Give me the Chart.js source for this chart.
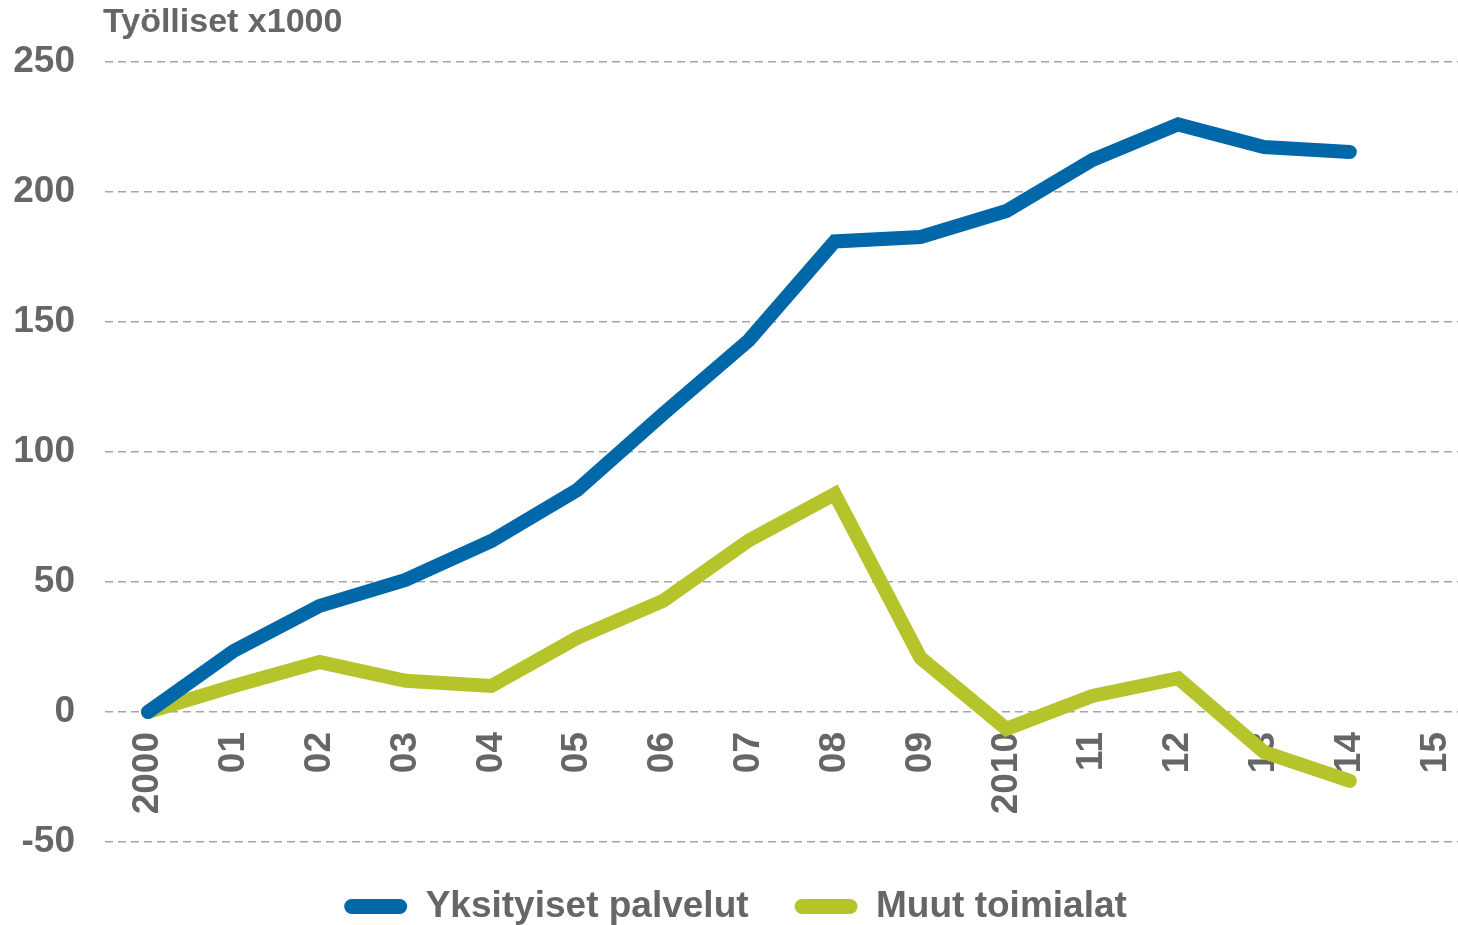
<!DOCTYPE html>
<html>
<head>
<meta charset="utf-8">
<script src="https://cdn.jsdelivr.net/npm/chart.js@4/dist/chart.umd.min.js"></script>
<style>
  html, body { margin: 0; padding: 0; background: #fff; overflow: hidden; }
  #wrap { width: 1458px; height: 925px; }
  canvas { display: block; }
</style>
</head>
<body>
<div id="wrap"><canvas id="chart"></canvas></div>
<script>
// Työlliset x1000, muutos vuodesta 2000
const years = ['2000', '01', '02', '03', '04', '05', '06', '07', '08', '09', '2010', '11', '12', '13', '14', '15']
const yksityisetPalvelut = [0, 23.5, 40.8, 50.8, 65.8, 85.4, 114.6, 143, 181, 182.7, 192.7, 212.3, 226, 217.3, 215.4]
const muutToimialat = [0, 10, 19.2, 12, 10, 28.5, 42.7, 66, 83.8, 20.8, -6.5, 6.2, 13, -15.4, -26.5]
const yTicks = [-50, 0, 50, 100, 150, 200, 250]

const GREY = '#666666'
const BLUE = '#0068a8'
const GREEN = '#b5c42a'
const FONT = '"Liberation Sans", Arial, sans-serif'

const toPoints = arr => arr.map((v, i) => ({ x: i, y: v }))

const axisTitle = {
  id: 'axisTitle',
  afterDraw(chart) {
    const { ctx, chartArea } = chart
    ctx.save()
    ctx.font = `bold 34px ${FONT}`
    ctx.fillStyle = GREY
    ctx.textBaseline = 'middle'
    ctx.textAlign = 'left'
    ctx.fillText('Työlliset x1000', chartArea.left - 2, 23)
    ctx.restore()
  },
}

const line = (label, data, color) => ({
  label,
  data: toPoints(data),
  borderColor: color,
  backgroundColor: color,
  borderWidth: 14,
  borderCapStyle: 'round',
  borderJoinStyle: 'miter',
  pointRadius: 0,
  tension: 0,
  fill: false,
})

new Chart(document.getElementById('chart'), {
  type: 'line',
  data: {
    datasets: [
      line('Yksityiset palvelut', yksityisetPalvelut, BLUE),
      line('Muut toimialat', muutToimialat, GREEN),
    ],
  },
  options: {
    responsive: true,
    maintainAspectRatio: false,
    animation: false,
    layout: { padding: { top: 62, right: 0, left: 13, bottom: -10 } },
    scales: {
      x: {
        type: 'linear',
        position: { y: 0 },
        min: -0.5,
        max: 15.26,
        z: 1,
        // the axis sits inside the plot, so it must not shrink the plot sideways
        afterFit: s => { s.paddingLeft = 0; s.paddingRight = 0 },
        grid: { display: false, drawTicks: false },
        border: { display: false },
        ticks: {
          stepSize: 1,
          includeBounds: false,
          autoSkip: false,
          minRotation: 90,
          maxRotation: 90,
          padding: 20,
          color: GREY,
          font: { size: 37, weight: 'bold', family: FONT },
          callback: v => years[v] ?? '',
        },
      },
      y: {
        min: -50,
        max: 250,
        afterBuildTicks: axis => { axis.ticks = yTicks.map(v => ({ value: v })) },
        afterFit: s => { s.width = 92 },
        grid: { color: '#a6a6a6', lineWidth: 1.5, drawTicks: false },
        border: { display: false, dash: [8, 5] },
        ticks: {
          padding: 30,
          color: GREY,
          font: { size: 37, weight: 'bold', family: FONT },
        },
      },
    },
    plugins: {
      legend: {
        position: 'bottom',
        labels: {
          color: GREY,
          font: { size: 37, weight: 'bold', family: FONT },
          boxWidth: 63,
          boxHeight: 15,
          useBorderRadius: true,
          borderRadius: 7.5,
          padding: 46,
          generateLabels: chart => chart.data.datasets.map((ds, i) => ({
            text: ds.label,
            fillStyle: ds.borderColor,
            strokeStyle: ds.borderColor,
            lineWidth: 0,
            fontColor: GREY,
            datasetIndex: i,
            hidden: false,
            borderRadius: 7.5,
          })),
        },
      },
      tooltip: { enabled: false },
    },
  },
  plugins: [axisTitle],
})
</script>
</body>
</html>
